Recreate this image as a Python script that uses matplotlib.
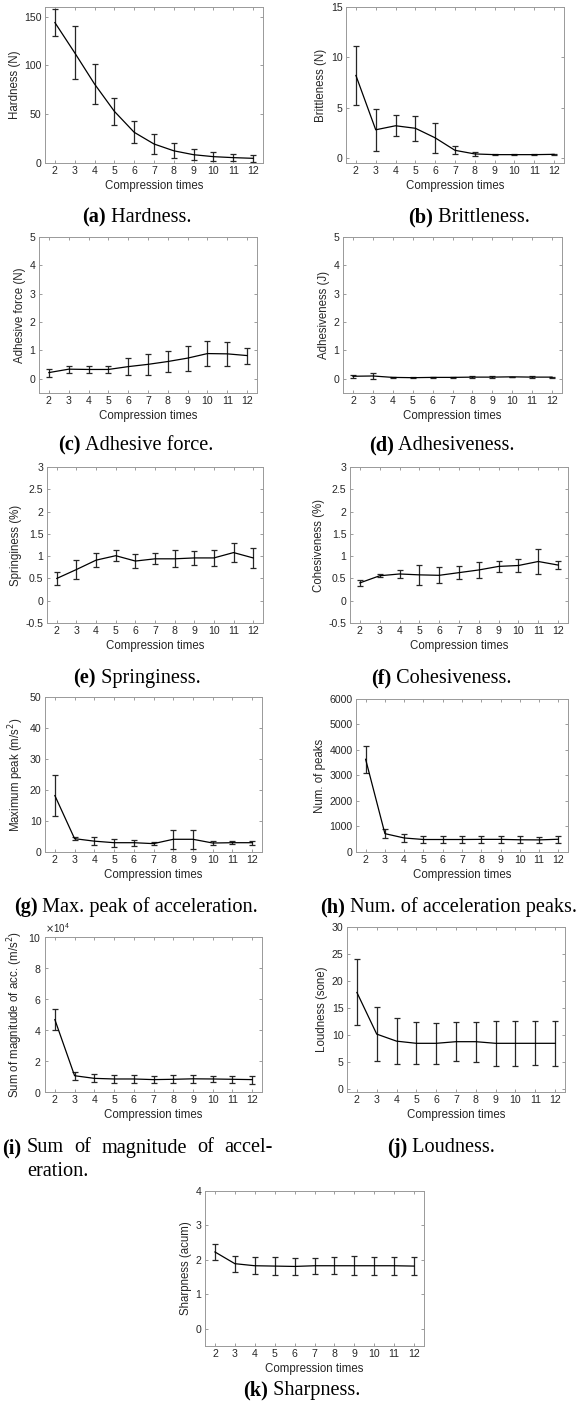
import matplotlib
matplotlib.use("Agg")
import matplotlib.pyplot as plt
import matplotlib.ticker as ticker

plt.rcParams['font.family'] = ['Liberation Sans', 'DejaVu Sans']
plt.rcParams['axes.unicode_minus'] = False

W, H = 577, 1416

# x axis: number of compressions
compression = [2, 3, 4, 5, 6, 7, 8, 9, 10, 11, 12]

# means and standard deviations
hardness_mean = [144, 113, 81, 53, 31.5, 19.5, 12.5, 8.5, 6.5, 5.5, 4.8]
hardness_err = [14, 27, 21, 14, 11.5, 10, 7.5, 5.5, 4.5, 3.5, 3.5]

brittleness_mean = [8.2, 2.8, 3.2, 2.95, 2.0, 0.76, 0.4, 0.33, 0.33, 0.33, 0.36]
brittleness_err = [2.9, 2.1, 1.05, 1.25, 1.5, 0.4, 0.18, 0.08, 0.06, 0.07, 0.05]

adhesive_force_mean = [0.22, 0.34, 0.33, 0.33, 0.43, 0.51, 0.61, 0.73, 0.89, 0.88, 0.82]
adhesive_force_err = [0.14, 0.12, 0.13, 0.13, 0.29, 0.37, 0.38, 0.44, 0.45, 0.43, 0.28]

adhesiveness_mean = [0.09, 0.10, 0.05, 0.04, 0.05, 0.05, 0.06, 0.06, 0.07, 0.06, 0.06]
adhesiveness_err = [0.06, 0.10, 0.02, 0.01, 0.02, 0.03, 0.03, 0.04, 0.01, 0.03, 0.02]

springiness_mean = [0.5, 0.7, 0.91, 1.01, 0.89, 0.94, 0.94, 0.96, 0.96, 1.08, 0.96]
springiness_err = [0.14, 0.22, 0.15, 0.12, 0.15, 0.12, 0.19, 0.15, 0.18, 0.21, 0.23]

cohesiveness_mean = [0.4, 0.56, 0.6, 0.58, 0.57, 0.63, 0.69, 0.77, 0.79, 0.88, 0.8]
cohesiveness_err = [0.07, 0.03, 0.1, 0.22, 0.18, 0.14, 0.18, 0.12, 0.14, 0.27, 0.09]

max_peak_mean = [18.2, 4.3, 3.5, 3.0, 3.0, 2.7, 4.1, 4.1, 2.9, 3.0, 3.0]
max_peak_err = [6.5, 0.55, 1.2, 1.25, 1.0, 0.55, 3.1, 3.0, 0.55, 0.45, 0.6]

num_peaks_mean = [3635, 720, 550, 490, 490, 490, 495, 495, 480, 475, 500]
num_peaks_err = [525, 170, 145, 135, 135, 135, 140, 135, 130, 130, 140]

sum_mag_mean = [46700, 10500, 8800, 8400, 8400, 8000, 8200, 8500, 8400, 8200, 8000]
sum_mag_err = [6700, 2500, 2600, 2600, 2400, 2200, 2600, 2600, 2200, 2200, 2600]

loudness_mean = [17.9, 10.2, 8.9, 8.5, 8.5, 8.8, 8.8, 8.5, 8.5, 8.5, 8.5]
loudness_err = [6.1, 5.0, 4.3, 3.9, 3.75, 3.6, 3.7, 4.2, 4.2, 4.1, 4.2]

sharpness_mean = [2.23, 1.89, 1.83, 1.82, 1.81, 1.83, 1.83, 1.83, 1.83, 1.83, 1.82]
sharpness_err = [0.22, 0.23, 0.24, 0.25, 0.25, 0.23, 0.24, 0.28, 0.26, 0.26, 0.27]

fig = plt.figure(figsize=(W / 100, H / 100), dpi=100)
renderer = fig.canvas.get_renderer()

CAP_SIZE = 14.6


def add_panel(box, mean, err, ylabel, ylim, yticks, sci=False):
    # box in pixels: left, top, right, bottom
    l, t, r, b = box
    ax = fig.add_axes([l / W, 1 - b / H, (r - l) / W, (b - t) / H])
    ax.errorbar(compression, mean, yerr=err, color='black', lw=0.9,
                elinewidth=0.9, capsize=2.3, capthick=0.9, ecolor='0.15')
    ax.set_xlim(1.5, 12.5)
    ax.set_ylim(*ylim)
    ax.set_xticks(compression)
    ax.set_yticks(yticks)
    if sci:
        # fixed x10^4 scaling like the original
        fmt = ticker.ScalarFormatter(useMathText=True)
        fmt.set_powerlimits((4, 4))
        ax.yaxis.set_major_formatter(fmt)
        ax.yaxis.get_offset_text().set_fontsize(7)
        ax.yaxis.get_offset_text().set_color('0.2')
    else:
        ax.yaxis.set_major_formatter(ticker.FormatStrFormatter('%g'))
    ax.tick_params(direction='in', length=2.5, width=0.6, top=True, right=True,
                   labelsize=7.6, colors='0.55', labelcolor='0.15', pad=2.5)
    for s in ax.spines.values():
        s.set_color('0.6')
        s.set_linewidth(0.7)
    ax.set_xlabel('Compression times', fontsize=8.3, color='0.15', labelpad=2.5)
    ax.set_ylabel(ylabel, fontsize=8.3, color='0.15', labelpad=2.5)
    return ax


def caption(cx, y, label, text):
    # bold label + regular text, centred on cx
    t1 = fig.text(0, 1 - y / H, label, fontsize=CAP_SIZE, fontweight='bold',
                  family='Liberation Serif', va='center', ha='left')
    t2 = fig.text(0, 1 - y / H, ' ' + text, fontsize=CAP_SIZE,
                  family='Liberation Serif', va='center', ha='left')
    w1 = t1.get_window_extent(renderer).width
    w2 = t2.get_window_extent(renderer).width
    x0 = cx - (w1 + w2) / 2
    t1.set_x(x0 / W)
    t2.set_x((x0 + w1) / W)


def caption_justified(x0, x1, xi, y, label, words, y2, rest):
    # caption that wraps over two lines, first line justified
    fig.text(x0 / W, 1 - y / H, label, fontsize=CAP_SIZE, fontweight='bold',
             family='Liberation Serif', va='center', ha='left')
    items = [fig.text(0, 1 - y / H, w, fontsize=CAP_SIZE, family='Liberation Serif',
                      va='center', ha='left') for w in words]
    widths = [it.get_window_extent(renderer).width for it in items]
    gap = (x1 - xi - sum(widths)) / (len(words) - 1)
    pos = xi
    for it, w in zip(items, widths):
        it.set_x(pos / W)
        pos += w + gap
    fig.text(xi / W, 1 - y2 / H, rest, fontsize=CAP_SIZE, family='Liberation Serif',
             va='center', ha='left')


add_panel((45, 7, 263, 163), hardness_mean, hardness_err, 'Hardness (N)',
          (0, 160), [0, 50, 100, 150])
add_panel((346, 7, 564, 163), brittleness_mean, brittleness_err, 'Brittleness (N)',
          (-0.5, 15), [0, 5, 10, 15])
add_panel((39, 237, 257, 393), adhesive_force_mean, adhesive_force_err,
          'Adhesive force (N)', (-0.5, 5), [0, 1, 2, 3, 4, 5])
add_panel((343, 237, 562, 393), adhesiveness_mean, adhesiveness_err,
          'Adhesiveness (J)', (-0.5, 5), [0, 1, 2, 3, 4, 5])
add_panel((47, 467, 263, 623), springiness_mean, springiness_err, 'Springiness (%)',
          (-0.5, 3), [-0.5, 0, 0.5, 1, 1.5, 2, 2.5, 3])
add_panel((350, 467, 568, 623), cohesiveness_mean, cohesiveness_err,
          'Cohesiveness (%)', (-0.5, 3), [-0.5, 0, 0.5, 1, 1.5, 2, 2.5, 3])
add_panel((45, 697, 262, 852), max_peak_mean, max_peak_err,
          'Maximum peak (m/s$^2$)', (0, 50), [0, 10, 20, 30, 40, 50])
add_panel((356, 699, 568, 852), num_peaks_mean, num_peaks_err, 'Num. of peaks',
          (0, 6000), [0, 1000, 2000, 3000, 4000, 5000, 6000])
add_panel((45, 937, 262, 1092), sum_mag_mean, sum_mag_err,
          'Sum of magnitude of acc. (m/s$^2$)', (0, 100000),
          [0, 20000, 40000, 60000, 80000, 100000], sci=True)
add_panel((347, 927, 565, 1092), loudness_mean, loudness_err, 'Loudness (sone)',
          (-0.5, 30), [0, 5, 10, 15, 20, 25, 30])
add_panel((205, 1191, 424, 1346), sharpness_mean, sharpness_err, 'Sharpness (acum)',
          (-0.5, 4), [0, 1, 2, 3, 4])

caption(137, 217, '(a)', 'Hardness.')
caption(469, 217, '(b)', 'Brittleness.')
caption(136, 445, '(c)', 'Adhesive force.')
caption(442, 445, '(d)', 'Adhesiveness.')
caption(137, 678, '(e)', 'Springiness.')
caption(441, 678, '(f)', 'Cohesiveness.')
caption(136, 907, '(g)', 'Max. peak of acceleration.')
caption(449, 907, '(h)', 'Num. of acceleration peaks.')
caption_justified(2, 273, 27, 1148, '(i)',
                  ['Sum', 'of', 'magnitude', 'of', 'accel-'], 1172, 'eration.')
caption(441, 1148, '(j)', 'Loudness.')
caption(302, 1390, '(k)', 'Sharpness.')

fig.savefig('out.png', dpi=100)
